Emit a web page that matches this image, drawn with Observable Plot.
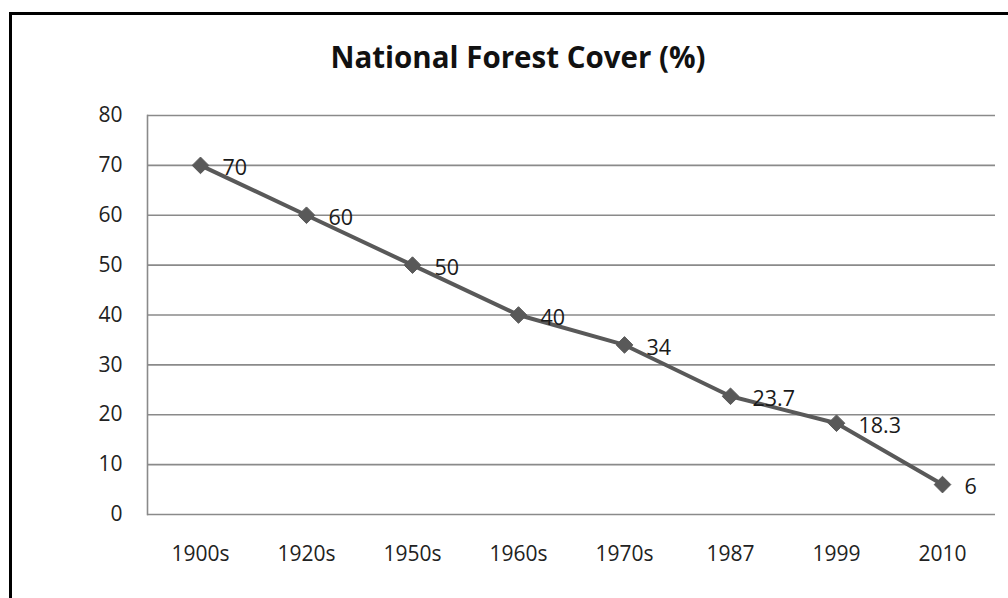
<!DOCTYPE html>
<html>
<head>
<meta charset="utf-8">
<script src="https://cdn.jsdelivr.net/npm/d3@7"></script>
<script src="https://cdn.jsdelivr.net/npm/@observablehq/plot@0.6"></script>
<style>
  html, body { margin: 0; padding: 0; background: #fff; overflow: hidden; }
  #wrap { position: relative; width: 1008px; height: 598px; overflow: hidden; font-family: "Open Sans", sans-serif; }
  #frame { position: absolute; left: 9px; top: 12px; width: 1200px; height: 800px; border: 3px solid #000; box-sizing: border-box; }
  #title { position: absolute; left: 0; top: 36px; width: 1036px; text-align: center; font-size: 29.5px; font-weight: bold; color: #111; }
  #chart { position: absolute; left: 0; top: 0; }
</style>
</head>
<body>
<div id="wrap">
  <div id="frame"></div>
  <div id="chart"></div>
  <div id="title">National Forest Cover (%)</div>
</div>
<script>
const periods = ["1900s", "1920s", "1950s", "1960s", "1970s", "1987", "1999", "2010"];
const cover = [70, 60, 50, 40, 34, 23.7, 18.3, 6];
const labels = ["70", "60", "50", "40", "34", "23.7", "18.3", "6"];
const yTicks = [0, 10, 20, 30, 40, 50, 60, 70, 80];

const data = periods.map((p, i) => ({period: p, value: cover[i], label: labels[i]}));

const chart = Plot.plot({
  width: 1008,
  height: 598,
  marginLeft: 147,
  marginRight: 13,
  marginTop: 115,
  marginBottom: 84,
  style: {background: "transparent", fontFamily: "Open Sans, sans-serif", fontSize: "21px", color: "#222"},
  x: {type: "point", domain: periods, padding: 0.5, label: null},
  y: {domain: [0, 80], ticks: yTicks, label: null},
  marks: [
    Plot.gridY(yTicks, {stroke: "#8a8a8a", strokeOpacity: 1, strokeWidth: 1.6}),
    Plot.frame({anchor: "left", stroke: "#8a8a8a", strokeWidth: 1.6}),
    Plot.axisY({ticks: yTicks, tickSize: 0, tickPadding: 25, fontSize: 21, fill: "#222"}),
    Plot.axisX({tickSize: 0, tickPadding: 32, fontSize: 21, fill: "#222"}),
    Plot.line(data, {x: "period", y: "value", stroke: "#595959", strokeWidth: 4}),
    Plot.dot(data, {x: "period", y: "value", symbol: "diamond2", r: 7.5, fill: "#595959", stroke: "#595959", strokeWidth: 1}),
    Plot.text(data, {x: "period", y: "value", text: "label", textAnchor: "start", dx: 22, dy: 3, fontSize: 21.5, fill: "#1a1a1a"})
  ]
});
document.getElementById("chart").appendChild(chart);
</script>
</body>
</html>
